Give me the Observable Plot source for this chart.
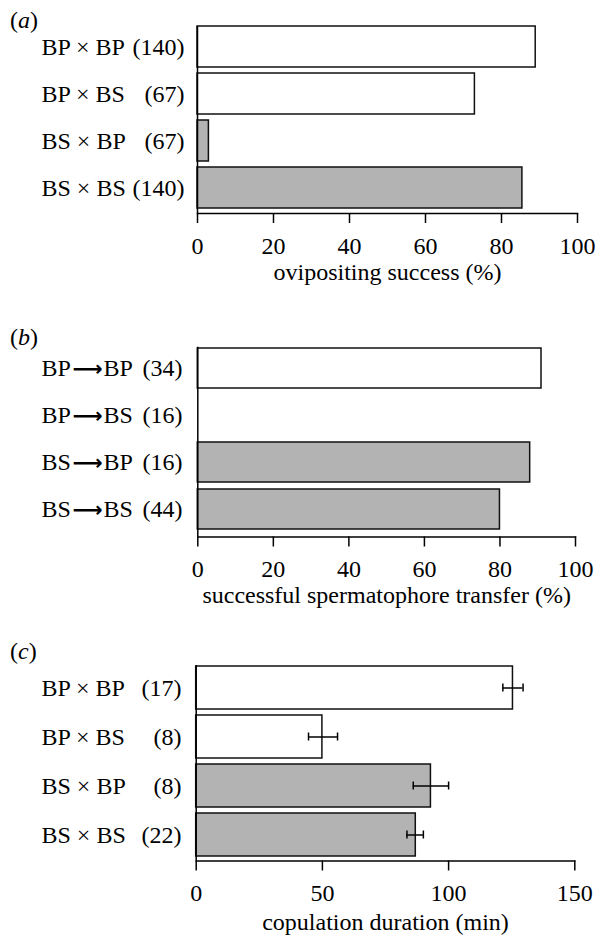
<!DOCTYPE html>
<html><head><meta charset="utf-8">
<script src="https://cdn.jsdelivr.net/npm/d3@7"></script>
<script src="https://cdn.jsdelivr.net/npm/@observablehq/plot@0.6"></script>
<style>
body{margin:0;background:#fff;}
#root{position:relative;width:596px;height:936px;font-family:"Liberation Serif","Times New Roman",serif;color:#000;}
.panel{position:absolute;left:0;}
.plab{position:absolute;left:10px;font-size:24px;line-height:1;}
</style></head><body><div id="root"></div>
<script>
// Panel (a): ovipositing success
const namesA = ["BP × BP", "BP × BS", "BS × BP", "BS × BS"];
const countsA = ["(140)", "(67)", "(67)", "(140)"];
const femaleA = ["BP", "BP", "BS", "BS"];
const valuesA = [89, 73, 3, 85.5];
const ticksA = [0, 20, 40, 60, 80, 100];

// Panel (b): spermatophore transfer
const fromB = ["BP", "BP", "BS", "BS"];
const toB = ["BP", "BS", "BP", "BS"];
const countsB = ["(34)", "(16)", "(16)", "(44)"];
const valuesB = [91, 0, 88, 80];
const ticksB = [0, 20, 40, 60, 80, 100];

// Panel (c): copulation duration
const namesC = ["BP × BP", "BP × BS", "BS × BP", "BS × BS"];
const countsC = ["(17)", "(8)", "(8)", "(22)"];
const femaleC = ["BP", "BP", "BS", "BS"];
const valuesC = [125.5, 50, 93, 87];
const lowC = [121.5, 44.5, 86, 83.5];
const highC = [129.5, 56, 100, 90];
const ticksC = [0, 50, 100, 150];

const rowsA = namesA.map((n, i) => ({key: n + i, name: n, count: countsA[i], group: femaleA[i], value: valuesA[i]}));
const rowsB = fromB.map((f, i) => ({key: f + toB[i], from: f, to: toB[i], count: countsB[i], group: f, value: valuesB[i]}));
const rowsC = namesC.map((n, i) => ({key: n + i, name: n, count: countsC[i], group: femaleC[i], value: valuesC[i], lo: lowC[i], hi: highC[i]}));

const root = document.getElementById("root");
const FONT = "Liberation Serif, Times New Roman, serif";

function panel(cfg) {
  const svg = Plot.plot({
    width: 596, height: cfg.height,
    marginTop: cfg.marginTop, marginBottom: cfg.marginBottom,
    marginLeft: cfg.marginLeft, marginRight: cfg.marginRight,
    style: {fontFamily: FONT, fontSize: "24px", background: "transparent", color: "#000", overflow: "visible"},
    x: {domain: [0, cfg.xmax]},
    y: {type: "band", domain: cfg.rows.map(d => d.key), paddingInner: cfg.padding, paddingOuter: 0, insetBottom: cfg.insetBottom, axis: null},
    color: {domain: ["BP", "BS"], range: ["#ffffff", "#b3b3b3"]},
    marks: [
      Plot.barX(cfg.rows, {x: "value", y: "key", fill: "group", stroke: "#111", strokeWidth: 1.5}),
      ...(cfg.extra || []),
      Plot.ruleX([0], {stroke: "#000", strokeWidth: 1.5}),
      Plot.frame({anchor: "bottom", stroke: "#000", strokeWidth: 1.5}),
      Plot.axisX({ticks: cfg.ticks, tickSize: 10, tickPadding: 13, fontSize: 24, strokeWidth: 1.5, tickFormat: d => String(d), label: null}),
      Plot.text([cfg.label], {text: d => d, frameAnchor: "bottom", lineAnchor: "bottom", dy: cfg.labelDy, fontSize: 24}),
      ...cfg.labels
    ]
  });
  svg.classList.add("panel");
  svg.style.top = cfg.top + "px";
  root.appendChild(svg);
  const lab = document.createElement("div");
  lab.className = "plab";
  lab.style.top = cfg.labTop + "px";
  lab.innerHTML = "(<i>" + cfg.letter + "</i>)";
  root.appendChild(lab);
}

function simpleLabels(rows, ml, nameStart, countEnd) {
  return [
    Plot.text(rows, {y: "key", text: "name", frameAnchor: "left", textAnchor: "start", dx: nameStart - ml, fontSize: 24}),
    Plot.text(rows, {y: "key", text: "count", frameAnchor: "left", textAnchor: "end", dx: countEnd - ml, fontSize: 24})
  ];
}

// (a)
panel({top: 0, height: 300, marginTop: 26, marginBottom: 87, marginLeft: 197, marginRight: 19,
  xmax: 100, ticks: ticksA, padding: 0.128, insetBottom: 5, rows: rowsA,
  label: "ovipositing success (%)", labelDy: 66, letter: "a", labTop: 8,
  labels: simpleLabels(rowsA, 197, 41, 184)});

// (b)
const mlB = 197.3;
panel({top: 300, height: 320, marginTop: 46.7, marginBottom: 83.5, marginLeft: mlB, marginRight: 21,
  xmax: 100, ticks: ticksB, padding: 0.153, insetBottom: 6, rows: rowsB,
  label: "successful spermatophore transfer (%)", labelDy: 66, letter: "b", labTop: 325,
  labels: [
    Plot.text(rowsB, {y: "key", text: "from", frameAnchor: "left", textAnchor: "start", dx: 41 - mlB, fontSize: 24}),
    Plot.text(rowsB, {y: "key", text: () => "⟶", frameAnchor: "left", textAnchor: "middle", dx: 87 - mlB, dy: 1, fontSize: 21, fontWeight: "bold", fontFamily: "DejaVu Sans"}),
    Plot.text(rowsB, {y: "key", text: "to", frameAnchor: "left", textAnchor: "start", dx: 103 - mlB, fontSize: 24}),
    Plot.text(rowsB, {y: "key", text: "count", frameAnchor: "left", textAnchor: "end", dx: 182 - mlB, fontSize: 24})
  ]});

// (c)
const mlC = 195.7;
panel({top: 620, height: 316, marginTop: 45, marginBottom: 75.5, marginLeft: mlC, marginRight: 21.7,
  xmax: 150, ticks: ticksC, padding: 0.128, insetBottom: 4.5, rows: rowsC,
  label: "copulation duration (min)", labelDy: 69, letter: "c", labTop: 639,
  extra: [
    Plot.ruleY(rowsC, {y: "key", x1: "lo", x2: "hi", stroke: "#000", strokeWidth: 1.5}),
    Plot.tickX(rowsC, {y: "key", x: "lo", insetTop: 17.5, insetBottom: 17.5, stroke: "#000", strokeWidth: 1.5}),
    Plot.tickX(rowsC, {y: "key", x: "hi", insetTop: 17.5, insetBottom: 17.5, stroke: "#000", strokeWidth: 1.5})
  ],
  labels: simpleLabels(rowsC, mlC, 41, 181)});
</script></body></html>
